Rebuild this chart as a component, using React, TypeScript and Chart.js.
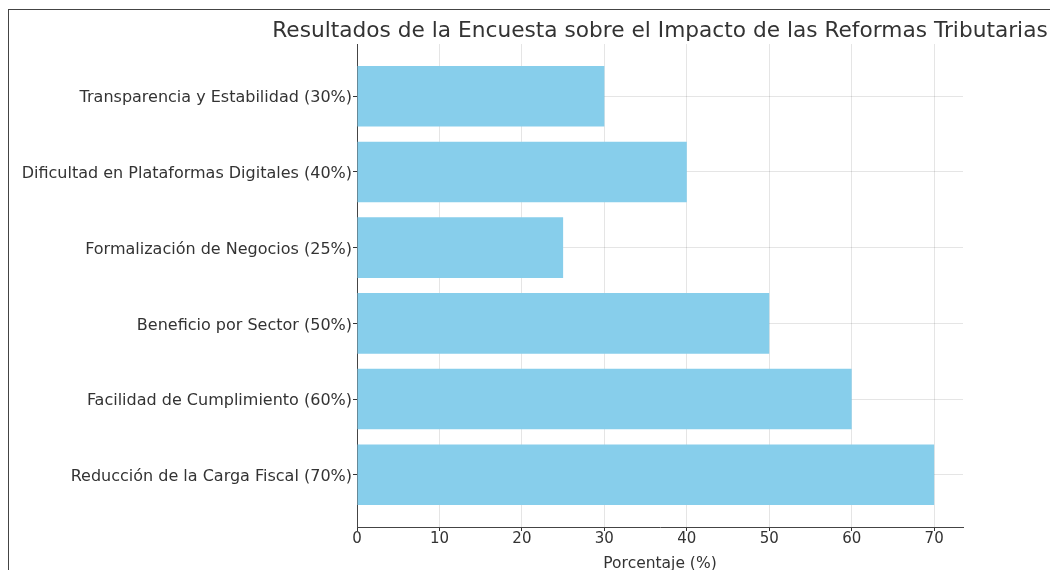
import React, { useEffect, useRef } from "react";
import { Chart, registerables } from "chart.js";

Chart.register(...registerables);

const categories = [
  "Transparencia y Estabilidad (30%)",
  "Dificultad en Plataformas Digitales (40%)",
  "Formalización de Negocios (25%)",
  "Beneficio por Sector (50%)",
  "Facilidad de Cumplimiento (60%)",
  "Reducción de la Carga Fiscal (70%)",
];
const values = [30, 40, 25, 50, 60, 70];
const xTicks = [0, 10, 20, 30, 40, 50, 60, 70];
const titleText = "Resultados de la Encuesta sobre el Impacto de las Reformas Tributarias";
const xTitle = "Porcentaje (%)";

const FONT = "'DejaVu Sans', sans-serif";

const titlePlugin = {
  id: "axTitle",
  afterDraw(chart: any) {
    const { ctx, chartArea } = chart;
    const cx = (chartArea.left + chartArea.right) / 2;
    ctx.save();
    ctx.fillStyle = "#333";
    ctx.textAlign = "center";
    ctx.textBaseline = "alphabetic";
    ctx.font = `21.7px ${FONT}`;
    ctx.fillText(titleText, cx, 37);
    ctx.font = `15.5px ${FONT}`;
    ctx.fillText(xTitle, cx, 568);
    ctx.restore();
  },
};

export default function App() {
  const ref = useRef<HTMLCanvasElement>(null);
  useEffect(() => {
    if (!ref.current) return;
    const chart = new Chart(ref.current, {
      type: "bar",
      data: {
        datasets: [
          {
            data: values.map((v, i) => ({ x: v, y: i })),
            backgroundColor: "#87CEEB",
            borderWidth: 0,
            categoryPercentage: 1,
            barPercentage: 0.8,
          },
        ],
      },
      options: {
        indexAxis: "y",
        animation: false,
        responsive: false,
        devicePixelRatio: 1,
        layout: { padding: { top: 44, right: 87, left: 0, bottom: 0 } },
        plugins: { legend: { display: false }, tooltip: { enabled: false }, title: { display: false } },
        scales: {
          x: {
            type: "linear",
            min: 0,
            max: 73.5,
            z: 1,
            afterBuildTicks: (s: any) => {
              s.ticks = xTicks.map((v) => ({ value: v }));
            },
            afterFit: (s: any) => {
              s.height = 43;
            },
            grid: { color: "rgba(0,0,0,0.1)", tickColor: "#333", tickLength: 4 },
            border: { color: "#444", width: 1 },
            ticks: { color: "#333", font: { family: FONT, size: 15 }, padding: -1, maxRotation: 0 },
          },
          y: {
            type: "linear",
            min: -0.69,
            max: 5.69,
            reverse: true,
            offset: false,
            z: 1,
            afterBuildTicks: (s: any) => {
              s.ticks = categories.map((_, i) => ({ value: i }));
            },
            afterFit: (s: any) => {
              s.width = 357;
            },
            grid: { color: "rgba(0,0,0,0.1)", tickColor: "#333", tickLength: 4, offset: false },
            border: { color: "#444", width: 1 },
            ticks: {
              color: "#333",
              font: { family: FONT, size: 16 },
              padding: 1,
              labelOffset: 2,
              callback: (v: any) => categories[Math.round(Number(v))] ?? "",
            },
          },
        },
      },
      plugins: [titlePlugin],
    } as any);
    return () => chart.destroy();
  }, []);
  return (
    <div style={{ position: "absolute", left: 0, top: 0, width: 1050, height: 570, background: "#fff" }}>
      <canvas ref={ref} width={1050} height={570} style={{ position: "absolute", left: 0, top: 0 }} />
      <div
        style={{
          position: "absolute",
          left: 8,
          top: 9,
          width: 1042,
          height: 561,
          borderTop: "1.5px solid #444",
          borderLeft: "1.5px solid #444",
          boxSizing: "border-box",
          pointerEvents: "none",
        }}
      />
    </div>
  );
}
